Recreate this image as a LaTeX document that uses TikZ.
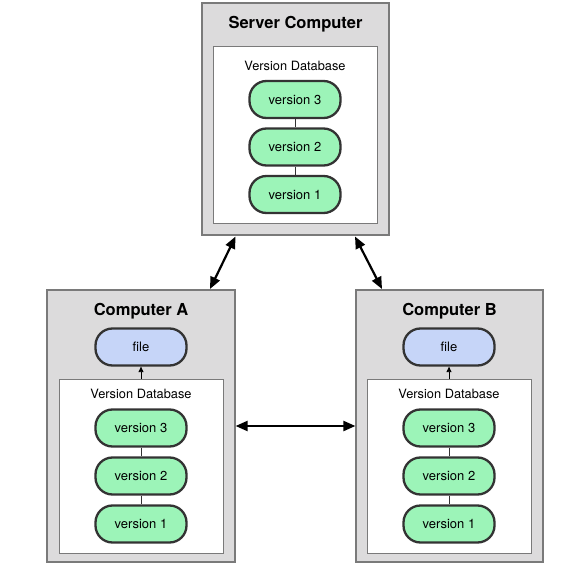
\documentclass[tikz,border=0pt]{standalone}
\usepackage{fontspec}
\setmainfont{TeX Gyre Heros}
\usetikzlibrary{arrows.meta}
\definecolor{boxgray}{HTML}{DCDBDC}
\definecolor{boxedge}{HTML}{7A7A7A}
\definecolor{pillgreen}{HTML}{9CF4B8}
\definecolor{pillblue}{HTML}{C6D5F8}
\definecolor{pilledge}{HTML}{333333}
\tikzset{
  outerbox/.style={draw=boxedge, fill=boxgray, line width=1.2pt, inner sep=0pt},
  innerbox/.style={draw=boxedge, fill=white, line width=1pt, inner sep=0pt},
  pill/.style={draw=pilledge, line width=2.3pt, rounded corners=17pt, minimum width=91pt, minimum height=37pt, inner sep=0pt, font=\fontsize{13}{15}\selectfont},
  verpill/.style={pill, fill=pillgreen},
  filepill/.style={pill, fill=pillblue},
  title/.style={font=\fontsize{16.5}{18}\selectfont\bfseries, inner sep=0pt},
  dblabel/.style={font=\fontsize{12.8}{14}\selectfont, inner sep=0pt},
  link/.style={draw=pilledge, line width=0.8pt},
  bigarrow/.style={line width=2.2pt, {Triangle[length=12pt,width=10pt]}-{Triangle[length=12pt,width=10pt]}},
  smallarrow/.style={line width=0.9pt, -{Triangle[length=5.5pt,width=5pt]}}
}
\begin{document}
\begin{tikzpicture}[x=1pt,y=-1pt]
\useasboundingbox (0,0) rectangle (583,569);
% Server
\node[outerbox, minimum width=187pt, minimum height=232pt] (srv) at (295.5,119) {};
\node[innerbox, minimum width=164pt, minimum height=177pt] (srvdb) at (295,135.5) {};
\node[title] (srvt) at (295.5,24) {Server Computer};
\node[dblabel] (srvl) at (295,66) {Version Database};
\node[verpill] (s3) at (295,99.5) {version 3};
\node[verpill] (s2) at (295,147) {version 2};
\node[verpill] (s1) at (295,194.5) {version 1};
% Computer A
\node[outerbox, minimum width=188pt, minimum height=272pt] (ca) at (141,426) {};
\node[innerbox, minimum width=164pt, minimum height=174pt] (cadb) at (141,466) {};
\node[title] (cat) at (141,311) {Computer A};
\node[filepill] (af) at (141,347) {file};
\node[dblabel] (cal) at (141,394) {Version Database};
\node[verpill] (a3) at (141,428) {version 3};
\node[verpill] (a2) at (141,476) {version 2};
\node[verpill] (a1) at (141,524) {version 1};
% Computer B
\node[outerbox, minimum width=187pt, minimum height=272pt] (cb) at (449.5,426) {};
\node[innerbox, minimum width=164pt, minimum height=174pt] (cbdb) at (449,466) {};
\node[title] (cbt) at (449.5,311) {Computer B};
\node[filepill] (bf) at (449,347) {file};
\node[dblabel] (cbl) at (449,394) {Version Database};
\node[verpill] (b3) at (449,428) {version 3};
\node[verpill] (b2) at (449,476) {version 2};
\node[verpill] (b1) at (449,524) {version 1};
% links between versions
\draw[link] (s3) -- (s2);
\draw[link] (s2) -- (s1);
\draw[link] (a3) -- (a2);
\draw[link] (a2) -- (a1);
\draw[link] (b3) -- (b2);
\draw[link] (b2) -- (b1);
% small arrows db -> file
\draw[smallarrow] (cadb.north) -- (af.south);
\draw[smallarrow] (cbdb.north) -- (bf.south);
% big arrows
\coordinate (sl) at (235.5,236.5);
\coordinate (at) at (210,289);
\coordinate (sr) at (355,236.5);
\coordinate (bt) at (382,289);
\draw[bigarrow] (sl) -- (at);
\draw[bigarrow] (sr) -- (bt);
\draw[bigarrow] (ca.east |- 0,426) -- (cb.west |- 0,426);
\end{tikzpicture}
\end{document}
